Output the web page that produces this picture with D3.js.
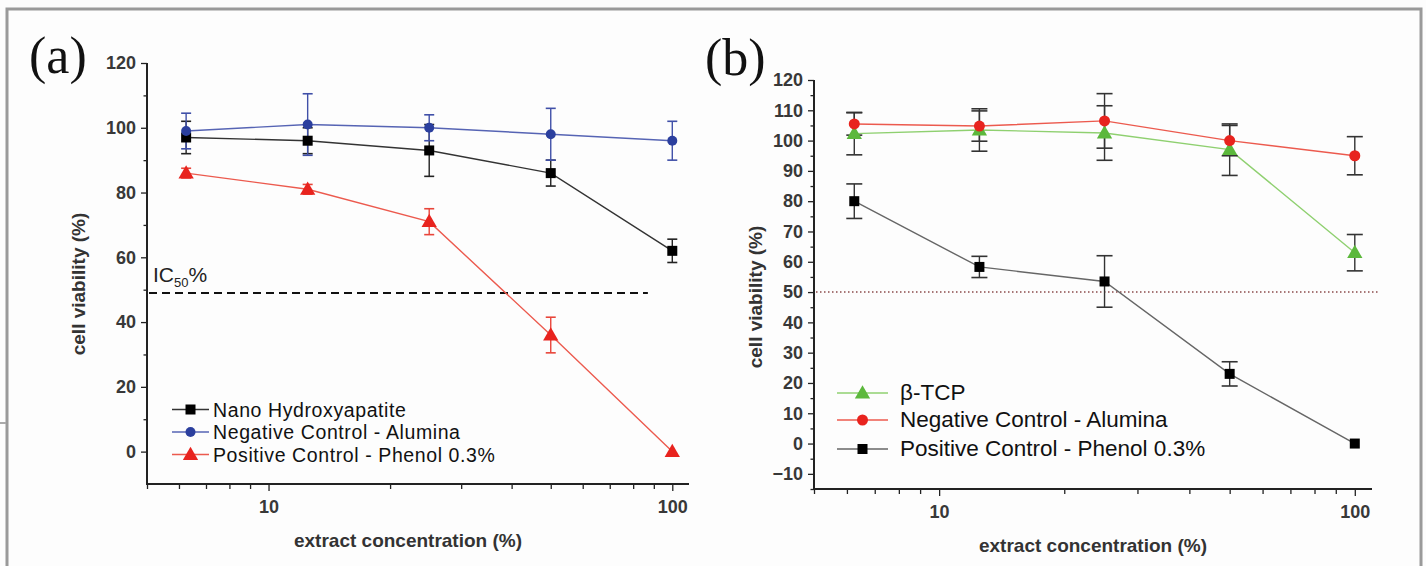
<!DOCTYPE html>
<html>
<head>
<meta charset="utf-8">
<script src="https://cdn.jsdelivr.net/npm/d3@7"></script>
<style>
  body { margin: 0; background: #fff; }
  svg { display: block; font-family: "Liberation Sans", Arial, sans-serif; }
</style>
</head>
<body>
<svg id="svg" width="1426" height="566"></svg>
<script>
// 横軸（抽出液濃度 %）
const concentrations = [6.25, 12.5, 25, 50, 100];
const xMajorTicks = [10, 100];
const xMinorTicks = [5, 6, 7, 8, 9, 20, 30, 40, 50, 60, 70, 80, 90];

// (a) の系列
const hapMean = [97, 96, 93, 86, 62];
const hapErr = [5, 4, 8, 4, 3.6];
const aluminaAMean = [99, 101, 100, 98, 96];
const aluminaAErr = [5.5, 9.5, 4, 8, 6];
const phenolAMean = [86, 81, 71, 36, 0];
const phenolAErr = [1.5, 1.5, 4, 5.5, 0];
const yTicksA = [0, 20, 40, 60, 80, 100, 120];
const yMinorA = [10, 30, 50, 70, 90, 110];
const ic50A = 49;

// (b) の系列
const tcpMean = [102.3, 103.5, 102.5, 97, 63];
const tcpErr = [7, 7, 9, 8.5, 6];
const aluminaBMean = [105.5, 104.8, 106.5, 100, 95];
const aluminaBErr = [3.7, 5, 9, 5, 6.3];
const phenolBMean = [80, 58.3, 53.5, 23, 0];
const phenolBErr = [5.7, 3.5, 8.5, 4, 0];
const yTicksB = [-10, 0, 10, 20, 30, 40, 50, 60, 70, 80, 90, 100, 110, 120];
const yMinorB = [-15, -5, 5, 15, 25, 35, 45, 55, 65, 75, 85, 95, 105, 115];
const ic50B = 50;

const svg = d3.select("#svg");

// 外枠
svg.append("rect").attr("x", 0).attr("y", 0).attr("width", 1426).attr("height", 566).attr("fill", "#fdfdfd");
svg.append("rect")
  .attr("x", 7).attr("y", 9).attr("width", 1414).attr("height", 600)
  .attr("fill", "none").attr("stroke", "#9a9a9a").attr("stroke-width", 3);
svg.append("line").attr("x1", 0).attr("x2", 6).attr("y1", 423).attr("y2", 423)
  .attr("stroke", "#aaa").attr("stroke-width", 2);

// マーカーを描く
function drawMarker(g, shape, cx, cy, color, size) {
  if (shape == "square") {
    g.append("rect").attr("x", cx - size / 2).attr("y", cy - size / 2)
      .attr("width", size).attr("height", size).attr("fill", color);
  } else if (shape == "circle") {
    g.append("circle").attr("cx", cx).attr("cy", cy).attr("r", size / 2).attr("fill", color);
  } else {
    const s = d3.symbol().type(d3.symbolTriangle).size(size * size * 0.6);
    g.append("path").attr("d", s()).attr("transform", `translate(${cx},${cy + 1})`).attr("fill", color);
  }
}

// パネル1枚分を描く
function drawPanel(p) {
  const g = svg.append("g");
  const x = d3.scaleLog().domain([5, 110]).range([p.left, p.right]);
  const y = d3.scaleLinear().domain(p.yDomain).range([p.bottom, p.top]);

  // 目盛り（補助目盛りは軸線なし）
  g.append("g").attr("class", "minor").attr("transform", `translate(${p.left},0)`)
    .call(d3.axisLeft(y).tickValues(p.yMinor).tickSize(3.5).tickFormat(""));
  g.append("g").attr("class", "minor").attr("transform", `translate(0,${p.bottom})`)
    .call(d3.axisBottom(x).tickValues(xMinorTicks).tickSize(5).tickFormat(""));
  g.selectAll(".minor .domain").remove();
  const yAxis = g.append("g").attr("transform", `translate(${p.left},0)`)
    .call(d3.axisLeft(y).tickValues(p.yTicks).tickSize(6).tickPadding(5));
  const xAxis = g.append("g").attr("transform", `translate(0,${p.bottom})`)
    .call(d3.axisBottom(x).tickValues(xMajorTicks).tickSize(7).tickPadding(9).tickFormat(d3.format("d")));
  yAxis.select(".domain").attr("d", `M0,${p.bottom + 1}V${p.top}`);
  xAxis.select(".domain").attr("d", `M${p.left - 1},0H${p.right}`);
  g.selectAll(".domain").attr("stroke", "#222").attr("stroke-width", 2);
  g.selectAll(".tick line").attr("stroke", "#222").attr("stroke-width", 1.3);
  g.selectAll(".tick text").attr("font-size", 18).attr("font-family", "Liberation Sans, Arial, sans-serif")
    .attr("font-weight", "bold").attr("fill", "#383838");

  // IC50 の線
  g.append("line")
    .attr("x1", x(5) + 2).attr("x2", x(p.icEnd))
    .attr("y1", y(p.ic50)).attr("y2", y(p.ic50))
    .attr("stroke", p.icColor).attr("stroke-width", p.icWidth).attr("stroke-dasharray", p.icDash);

  // 系列
  p.series.forEach((s) => {
    const line = d3.line().x((d, i) => x(concentrations[i])).y((d) => y(d));
    g.append("path").attr("d", line(s.mean)).attr("fill", "none")
      .attr("stroke", s.lineColor).attr("stroke-width", 1.4);
  });
  p.series.forEach((s) => {
    s.mean.forEach((m, i) => {
      if (s.err[i] <= 0) return;
      const cx = x(concentrations[i]);
      const c = s.errColor;
      g.append("line").attr("x1", cx).attr("x2", cx)
        .attr("y1", y(m - s.err[i])).attr("y2", y(m + s.err[i]))
        .attr("stroke", c).attr("stroke-width", 1.4);
      [m - s.err[i], m + s.err[i]].forEach((v) => {
        g.append("line").attr("x1", cx - p.cap / 2).attr("x2", cx + p.cap / 2)
          .attr("y1", y(v)).attr("y2", y(v)).attr("stroke", c).attr("stroke-width", 1.6);
      });
    });
  });
  p.series.forEach((s) => {
    s.mean.forEach((m, i) => drawMarker(g, s.shape, x(concentrations[i]), y(m), s.color, s.size));
  });

  // 凡例
  p.series.forEach((s, i) => {
    const ly = p.legendY[i];
    g.append("line").attr("x1", p.legendX).attr("x2", p.legendX + p.legendLen)
      .attr("y1", ly).attr("y2", ly).attr("stroke", s.lineColor).attr("stroke-width", 1.4);
    drawMarker(g, s.shape, p.legendX + p.legendLen / 2, ly, s.color, s.size);
    g.append("text").attr("x", p.legendX + p.legendLen + 4 + (p.legendGap || 0)).attr("y", ly + 7)
      .attr("font-size", p.legendFont).attr("letter-spacing", p.legendSpacing || 0)
      .attr("fill", "#111").text(s.name);
  });

  // 軸タイトル
  g.append("text").attr("x", (p.left + p.right) / 2 + p.xTitleDx).attr("y", p.bottom + 63)
    .attr("text-anchor", "middle").attr("font-size", 19).attr("font-weight", "bold").attr("fill", "#333")
    .text("extract concentration (%)");
  g.append("text").attr("transform", `translate(${p.yTitleX},${p.yTitleY}) rotate(-90)`)
    .attr("text-anchor", "middle").attr("font-size", 19).attr("font-weight", "bold").attr("fill", "#333")
    .text("cell viability (%)");

  // パネル記号
  g.append("text").attr("x", p.tagX).attr("y", p.tagY)
    .attr("font-family", "Liberation Serif, Times New Roman, serif").attr("font-size", 52).attr("fill", "#111")
    .text(p.tag);
  return { g, x, y };
}

const panelA = drawPanel({
  left: 147, right: 689, top: 63, bottom: 484, yDomain: [-10, 120],
  yTicks: yTicksA, yMinor: yMinorA,
  ic50: ic50A, icEnd: 87, icColor: "#111", icWidth: 2, icDash: "8,5",
  cap: 10,
  series: [
    { name: "Nano Hydroxyapatite", mean: hapMean, err: hapErr, shape: "square", color: "#000", lineColor: "#333", errColor: "#222", size: 10 },
    { name: "Negative Control - Alumina", mean: aluminaAMean, err: aluminaAErr, shape: "circle", color: "#2b3f9e", lineColor: "#5664b4", errColor: "#4050a8", size: 10 },
    { name: "Positive Control - Phenol 0.3%", mean: phenolAMean, err: phenolAErr, shape: "triangle", color: "#e8231e", lineColor: "#ec5a4e", errColor: "#e8453a", size: 13 }
  ],
  legendX: 172, legendLen: 37, legendY: [409.5, 432, 454.5], legendFont: 19.5, legendSpacing: 0.6,
  xTitleDx: -10, yTitleX: 85, yTitleY: 284,
  tag: "(a)", tagX: 29, tagY: 73
});
// IC50% ラベル
panelA.g.append("text").attr("x", 153).attr("y", 282).attr("font-size", 21).attr("fill", "#222")
  .html('IC<tspan font-size="13" dy="5">50</tspan><tspan dy="-5">%</tspan>');

drawPanel({
  left: 814, right: 1372, top: 80, bottom: 489, yDomain: [-15, 120],
  yTicks: yTicksB, yMinor: yMinorB,
  ic50: ic50B, icEnd: 114, icColor: "#8a4a4a", icWidth: 1.5, icDash: "1.5,2.5",
  cap: 16,
  series: [
    { name: "β-TCP", mean: tcpMean, err: tcpErr, shape: "triangle", color: "#5cb83c", lineColor: "#8fd070", errColor: "#333", size: 13 },
    { name: "Negative Control - Alumina", mean: aluminaBMean, err: aluminaBErr, shape: "circle", color: "#e8231e", lineColor: "#ec5a4e", errColor: "#333", size: 11 },
    { name: "Positive Control - Phenol 0.3%", mean: phenolBMean, err: phenolBErr, shape: "square", color: "#000", lineColor: "#666", errColor: "#333", size: 10 }
  ],
  legendX: 837, legendLen: 51, legendY: [393, 420, 449], legendGap: 8, legendFont: 22.5,
  xTitleDx: 0, yTitleX: 762, yTitleY: 297,
  tag: "(b)", tagX: 705, tagY: 75
});
</script>
</body>
</html>
